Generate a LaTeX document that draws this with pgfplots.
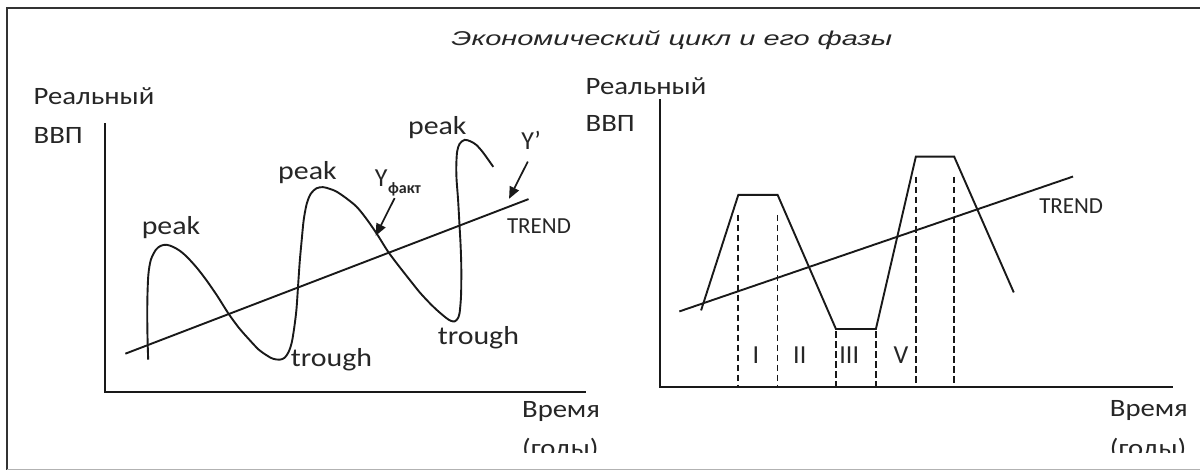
\documentclass[border=0pt]{standalone}
\usepackage{fontspec}
\setmainfont{Carlito}
\newfontfamily\wide[FakeStretch=1.15]{Carlito}
\newfontfamily\ttl[FakeStretch=1.45]{Liberation Sans}
\usepackage{pgfplots}
\pgfplotsset{compat=1.18}
\usetikzlibrary{arrows.meta}

\tikzset{
  ln/.style={black!90,line width=1.9pt},
  dsh/.style={black!90,line width=1.8pt,dash pattern=on 6.5pt off 3.5pt},
  arw/.style={black!90,line width=1.7pt,-{Triangle[length=12pt,width=10pt]}},
  txt/.style={inner sep=0pt,anchor=base west,black!85},
}
\newcommand{\fs}[1]{\fontsize{#1}{#1}\selectfont}

\begin{document}
\begin{tikzpicture}
\begin{axis}[scale only axis, width=1201pt, height=471pt,
  xmin=0, xmax=1201, ymin=0, ymax=471, y dir=reverse,
  hide axis, clip=false]

\path[fill=white] (axis cs:0,0) rectangle (axis cs:1201,471);

% frame
\addplot[gray!40!black,line width=2.2pt] coordinates {(7.3,470) (7.3,8.3) (1201,8.3)};
\addplot[gray!60,line width=1.2pt] coordinates {(7.3,470) (1201,470)};

% ---- left panel ----
\addplot[ln] coordinates {(105,123.3) (105,392) (587,392)};
\addplot[ln] coordinates {(125.5,354) (529,199.3)};
\addplot[ln,smooth,tension=0.5] coordinates {
 (148.3,360) (147.5,330) (147.5,300) (148.5,275) (151,260) (156,250) (161,246)
 (166.7,245) (173,247) (180,251) (187,257) (197,268) (207,281) (218,297)
 (228.3,313.3) (239,328) (250,340.5) (259,350) (266.7,355.5) (273,359) (280,360)
 (285,358) (289,352) (292,343) (294.5,328) (296.7,310) (298.3,287) (300,262)
 (302,240) (304,220) (307,204) (311,194) (316.7,188.5) (323.3,187.3) (330,189)
 (336.7,191.7) (346,198) (356.7,206.7) (366,218) (376.7,233.3) (388.3,251.7)
 (399,266) (410,280) (420,292.5) (430,303.3) (438,311) (446.7,318.3) (451,321)
 (455,321.7) (458,319) (460,313.3) (461.5,295) (461.7,266.7) (461,245)
 (460,226.7) (458.5,200) (457,180) (456.7,166.7) (457.5,152) (460,144)
 (465,140) (471,141.5) (476.7,145) (483,152) (490,161.7) (493.7,167)};
\addplot[arw] coordinates {(395,198.3) (376,236)};
\addplot[arw] coordinates {(528.3,161.7) (509.5,199)};

\node[txt,font=\wide\fs{25}] at (axis cs:33.5,104.3) {Реальный};
\node[txt,font=\wide\fs{25}] at (axis cs:33.5,143.3) {ВВП};
\node[txt,font=\wide\fs{25}] at (axis cs:522.4,418.3) {Время};
\node[txt,font=\wide\fs{26}] at (axis cs:141.7,234.3) {peak};
\node[txt,font=\wide\fs{26}] at (axis cs:278.3,180) {peak};
\node[txt,font=\wide\fs{26}] at (axis cs:408.3,135) {peak};
\node[txt,font=\wide\fs{26}] at (axis cs:291,366.5) {trough};
\node[txt,font=\wide\fs{26}] at (axis cs:438,345) {trough};
\node[txt,font=\fs{23}] at (axis cs:507.3,233.3) {TREND};
\node[txt,font=\fs{26}] at (axis cs:375,187) {Y};
\node[txt,font=\bfseries\fs{16}] at (axis cs:388.3,194) {факт};
\node[txt,font=\fs{26}] at (axis cs:521.7,150) {Y\char"27};

% ---- right panel ----
\addplot[ln] coordinates {(660.6,99.3) (660.6,387.3) (1173.8,387.3)};
\addplot[ln] coordinates {(680,311.7) (1074,176.7)};
\addplot[ln] coordinates {(701.7,310.7) (739,195) (778.3,195) (836.7,329.3)
 (876.7,329.3) (916.7,156.7) (955,156.7) (1014.7,292.7)};
\addplot[dsh] coordinates {(739,215) (739,387.3)};
\addplot[dsh] coordinates {(778.3,215) (778.3,387.3)};
\addplot[dsh] coordinates {(836.7,331.7) (836.7,387.3)};
\addplot[dsh] coordinates {(876.7,331.7) (876.7,387.3)};
\addplot[dsh] coordinates {(916.7,176.7) (916.7,387.3)};
\addplot[dsh] coordinates {(955,176.7) (955,387.3)};

\node[txt,font=\wide\fs{25}] at (axis cs:586,95) {Реальный};
\node[txt,font=\wide\fs{25}] at (axis cs:586,131.7) {ВВП};
\node[txt,font=\wide\fs{25}] at (axis cs:1110.7,417.3) {Время};
\node[txt,font=\fs{23}] at (axis cs:1040,213.3) {TREND};
\node[inner sep=0pt,anchor=base,black!85,font=\fs{26}] at (axis cs:756.7,364) {I};
\node[inner sep=0pt,anchor=base,black!85,font=\fs{26}] at (axis cs:800.5,364) {II};
\node[inner sep=0pt,anchor=base,black!85,font=\fs{26}] at (axis cs:850,364) {III};
\node[inner sep=0pt,anchor=base,black!85,font=\fs{26}] at (axis cs:901.7,364) {V};

% title
\node[txt,font=\ttl\itshape\fs{20}] at (axis cs:451.7,45.5) {Экономический цикл и его фазы};

% cut-off bottom line
\clip (axis cs:0,0) rectangle (axis cs:1201,453);
\node[txt,font=\wide\fs{25}] at (axis cs:522.4,457) {(годы)};
\node[txt,font=\wide\fs{25}] at (axis cs:1110.7,457) {(годы)};
\end{axis}
\end{tikzpicture}
\end{document}
